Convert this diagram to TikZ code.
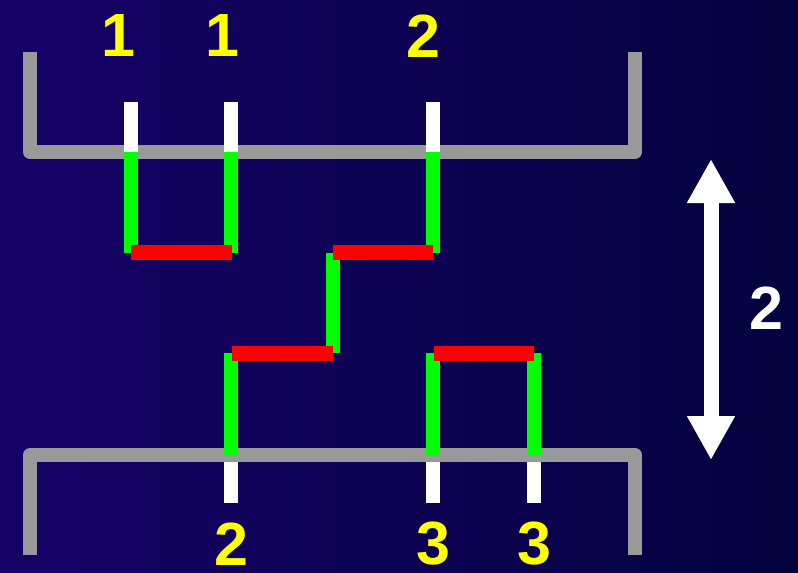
\documentclass[tikz,border=0pt]{standalone}
\usepackage{fontspec}
\setmainfont{Liberation Sans}
\usepackage{xcolor}
\usepackage{tikz}
\usetikzlibrary{arrows.meta}
\definecolor{bgleft}{RGB}{22,2,104}
\definecolor{bgright}{RGB}{4,2,62}
\definecolor{railgray}{RGB}{153,153,153}
\definecolor{leggreen}{RGB}{0,255,0}
\definecolor{rungred}{RGB}{255,0,0}
\definecolor{numyellow}{RGB}{255,255,0}

\begin{document}
\begin{tikzpicture}[x=1pt, y=-1pt,
    rail/.style={draw=railgray, line width=14pt, line join=round},
    stub/.style={draw=white, line width=14pt},
    leg/.style={draw=leggreen, line width=14pt},
    rung/.style={draw=rungred, line width=15pt},
    num/.style={text=numyellow, font=\bfseries\fontsize{61}{61}\selectfont, inner sep=0pt},
    height/.style={draw=white, line width=15pt, >={Triangle[width=45pt, length=44pt]}, <->}
]
\fill[left color=bgleft, right color=bgright] (0,0) rectangle (798,573);
\useasboundingbox (0,0) rectangle (798,573);
% rails
\draw[rail] (30,52) -- (30,152) -- (635,152) -- (635,52);
\draw[rail] (30,555) -- (30,455) -- (635,455) -- (635,555);
% open ends
\draw[stub] (131,102) -- (131,152);
\draw[stub] (231,102) -- (231,152);
\draw[stub] (433,102) -- (433,152);
\draw[stub] (231,462) -- (231,503);
\draw[stub] (433,462) -- (433,503);
\draw[stub] (534,462) -- (534,503);
% vertical legs
\draw[leg] (131,152) -- (131,253);
\draw[leg] (231,152) -- (231,253);
\draw[leg] (433,152) -- (433,253);
\draw[leg] (333,253) -- (333,353);
\draw[leg] (231,353) -- (231,455);
\draw[leg] (433,353) -- (433,455);
\draw[leg] (534,353) -- (534,455);
% horizontal rungs
\draw[rung] (131,252.5) -- (232,252.5);
\draw[rung] (333,252.5) -- (433,252.5);
\draw[rung] (232,353.5) -- (333,353.5);
\draw[rung] (434,353.5) -- (534,353.5);
% labels
\node[num] (t1) at (118,36) {1};
\node[num] (t2) at (222,36) {1};
\node[num] (t3) at (423,36) {2};
\node[num] (b1) at (231,544) {2};
\node[num] (b2) at (433,544) {3};
\node[num] (b3) at (534,544) {3};
% height
\coordinate (hup) at (711,159);
\coordinate (hdn) at (711,460);
\draw[height] (hup) -- (hdn);
\node[num, text=white] (h) at (766,308) {2};
\end{tikzpicture}
\end{document}
